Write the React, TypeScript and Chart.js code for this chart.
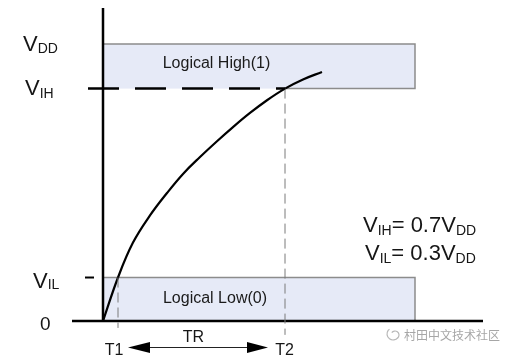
import React, { useEffect, useRef } from 'react';
import { Chart, registerables } from 'chart.js';

Chart.register(...registerables);

// ---- data (normalised voltage: VDD = 1, arbitrary time units) ----
const VDD = 1;
const VIH = 0.839;
const VIL = 0.157;
const T1 = 1.5;
const T2 = 18.2;
const BOX_END = 31.2;
const X_AXIS_RANGE = [-3.1, 38];
const Y_AXIS_TOP = 1.13;
const VIH_LINE_START = -1.5;
const VIL_TICK = [-1.8, -0.9];
const T1_DASH_BOTTOM = -0.025;
const T2_DASH_BOTTOM = -0.05;

const CURVE_T = [0, T1, 3.0, 4.7, 6.4, 8.0, 9.7, 11.4, 13.0, 14.7, 16.4, T2, 20.0, 21.9];
const CURVE_V = [0, VIL, 0.283, 0.381, 0.462, 0.531, 0.592, 0.649, 0.7, 0.751, 0.797, VIH, 0.872, 0.899];

const BOX_LABELS = ['Logical High(1)', 'Logical Low(0)'];
const TIME_LABELS = ['T1', 'T2', 'TR'];
const FORMULA_1: [string, boolean][] = [['V', false], ['IH', true], ['= 0.7V', false], ['DD', true]];
const FORMULA_2: [string, boolean][] = [['V', false], ['IL', true], ['= 0.3V', false], ['DD', true]];
const WATERMARK = '村田中文技术社区';

const FONT = '"Liberation Sans", Arial, sans-serif';

function drawRich(
  ctx: CanvasRenderingContext2D,
  x: number,
  y: number,
  parts: [string, boolean][],
  mainSize: number,
  subSize: number,
  subDrop: number
) {
  let cx = x;
  ctx.textAlign = 'left';
  ctx.textBaseline = 'alphabetic';
  for (const [t, sub] of parts) {
    ctx.font = `${sub ? subSize : mainSize}px ${FONT}`;
    ctx.fillText(t, cx, sub ? y + subDrop : y);
    cx += ctx.measureText(t).width;
  }
}

const diagramPlugin = {
  id: 'diagram',
  beforeDatasetsDraw(chart: any) {
    const ctx: CanvasRenderingContext2D = chart.ctx;
    const xs = chart.scales.x;
    const ys = chart.scales.y;
    const px = (v: number) => xs.getPixelForValue(v);
    const py = (v: number) => ys.getPixelForValue(v);
    ctx.save();
    const fill = '#e6eaf7';
    const stroke = '#8c8c8c';
    // high box
    ctx.fillStyle = fill;
    ctx.fillRect(px(0), py(VDD), px(BOX_END) - px(0), py(VIH) - py(VDD));
    ctx.strokeStyle = stroke;
    ctx.lineWidth = 1.5;
    ctx.beginPath();
    ctx.moveTo(px(0), py(VDD));
    ctx.lineTo(px(BOX_END), py(VDD));
    ctx.lineTo(px(BOX_END), py(VIH));
    ctx.lineTo(px(T2), py(VIH));
    ctx.stroke();
    // low box
    ctx.fillStyle = fill;
    ctx.fillRect(px(0), py(VIL), px(BOX_END) - px(0), py(0) - py(VIL));
    ctx.beginPath();
    ctx.moveTo(px(0), py(VIL));
    ctx.lineTo(px(BOX_END), py(VIL));
    ctx.lineTo(px(BOX_END), py(0));
    ctx.stroke();
    ctx.restore();
  },
  afterDatasetsDraw(chart: any) {
    const ctx: CanvasRenderingContext2D = chart.ctx;
    const xs = chart.scales.x;
    const ys = chart.scales.y;
    const px = (v: number) => xs.getPixelForValue(v);
    const py = (v: number) => ys.getPixelForValue(v);
    ctx.save();
    ctx.fillStyle = '#161616';

    // level labels on the left
    drawRich(ctx, 23, py(VDD) + 7, [['V', false], ['DD', true]], 22, 14, 2);
    drawRich(ctx, 25, py(VIH) + 6.5, [['V', false], ['IH', true]], 22, 14, 2.5);
    drawRich(ctx, 33, py(VIL) + 10, [['V', false], ['IL', true]], 22, 14, 1);
    drawRich(ctx, 40, py(0) + 9, [['0', false]], 19, 14, 0);

    // box labels
    ctx.textAlign = 'center';
    ctx.font = `16px ${FONT}`;
    ctx.fillStyle = '#1a1a1a';
    ctx.fillText(BOX_LABELS[0], 216.5, py(VIH) - 20.5);
    ctx.fillText(BOX_LABELS[1], 215, py(0) - 18);

    // formulas
    ctx.fillStyle = '#161616';
    drawRich(ctx, 363, 232, FORMULA_1, 22, 14, 2.5);
    drawRich(ctx, 365, 260, FORMULA_2, 22, 14, 2.5);

    // time labels
    const yArrow = py(0) + 26.5;
    ctx.textAlign = 'center';
    ctx.font = `16px ${FONT}`;
    ctx.fillText(TIME_LABELS[0], px(T1) - 4, py(0) + 34);
    ctx.fillText(TIME_LABELS[1], px(T2) - 0.5, py(0) + 34);
    ctx.fillText(TIME_LABELS[2], (px(T1) + px(T2)) / 2 - 8, py(0) + 21);

    // TR arrow
    const lt = px(T1) + 10;
    const rt = px(T2) - 17;
    ctx.strokeStyle = '#222';
    ctx.lineWidth = 1;
    ctx.beginPath();
    ctx.moveTo(lt + 20, yArrow);
    ctx.lineTo(rt - 20, yArrow);
    ctx.stroke();
    ctx.fillStyle = '#000';
    ctx.beginPath();
    ctx.moveTo(lt, yArrow);
    ctx.lineTo(lt + 22, yArrow - 5.5);
    ctx.lineTo(lt + 22, yArrow + 5.5);
    ctx.closePath();
    ctx.fill();
    ctx.beginPath();
    ctx.moveTo(rt, yArrow);
    ctx.lineTo(rt - 21, yArrow - 5.5);
    ctx.lineTo(rt - 21, yArrow + 5.5);
    ctx.closePath();
    ctx.fill();

    // watermark
    ctx.strokeStyle = '#b8b8b8';
    ctx.lineWidth = 1.2;
    ctx.beginPath();
    ctx.arc(393, 334, 6, Math.PI * 0.2, Math.PI * 1.3);
    ctx.stroke();
    ctx.beginPath();
    ctx.arc(395, 335, 4, Math.PI * 1.2, Math.PI * 2.3);
    ctx.stroke();
    ctx.fillStyle = '#a6a6a6';
    ctx.textAlign = 'left';
    ctx.font = `12px "Noto Sans CJK SC", sans-serif`;
    ctx.fillText(WATERMARK, 404, 340);
    ctx.restore();
  },
};

export default function App() {
  const ref = useRef<HTMLCanvasElement | null>(null);
  useEffect(() => {
    if (!ref.current) return;
    const line = (data: { x: number; y: number }[], extra: any) => ({
      data,
      showLine: true,
      pointRadius: 0,
      pointHoverRadius: 0,
      fill: false,
      borderCapStyle: 'butt',
      ...extra,
    });
    const chart = new Chart(ref.current, {
      type: 'scatter',
      data: {
        datasets: [
          line(
            [
              { x: VIH_LINE_START, y: VIH },
              { x: T2, y: VIH },
            ],
            { borderColor: '#000', borderWidth: 2.5, borderDash: [31, 16] }
          ),
          line(
            [
              { x: VIL_TICK[0], y: VIL },
              { x: VIL_TICK[1], y: VIL },
            ],
            { borderColor: '#000', borderWidth: 2 }
          ),
          line(
            [
              { x: T1, y: VIL },
              { x: T1, y: T1_DASH_BOTTOM },
            ],
            { borderColor: '#7a7a7a', borderWidth: 1, borderDash: [10, 5] }
          ),
          line(
            [
              { x: T2, y: VIH },
              { x: T2, y: T2_DASH_BOTTOM },
            ],
            { borderColor: '#7a7a7a', borderWidth: 1, borderDash: [10, 5] }
          ),
          line(
            CURVE_T.map((t, i) => ({ x: t, y: CURVE_V[i] })),
            { borderColor: '#000', borderWidth: 2.2, tension: 0.4 }
          ),
          line(
            [
              { x: X_AXIS_RANGE[0], y: 0 },
              { x: X_AXIS_RANGE[1], y: 0 },
            ],
            { borderColor: '#000', borderWidth: 2.5 }
          ),
          line(
            [
              { x: 0, y: 0 },
              { x: 0, y: Y_AXIS_TOP },
            ],
            { borderColor: '#000', borderWidth: 2.5 }
          ),
        ],
      },
      options: {
        responsive: false,
        animation: false,
        devicePixelRatio: 1,
        layout: { padding: 0 },
        events: [],
        plugins: { legend: { display: false }, tooltip: { enabled: false } },
        scales: {
          x: { type: 'linear', min: -10.3, max: 41.4, display: false },
          y: { type: 'linear', min: -36 / 277, max: 321 / 277, display: false },
        },
      },
      plugins: [diagramPlugin],
    } as any);
    return () => chart.destroy();
  }, []);
  return (
    <div style={{ position: 'fixed', left: 0, top: 0, width: 517, height: 357, background: '#fff' }}>
      <canvas ref={ref} width={517} height={357} style={{ display: 'block' }} />
    </div>
  );
}
